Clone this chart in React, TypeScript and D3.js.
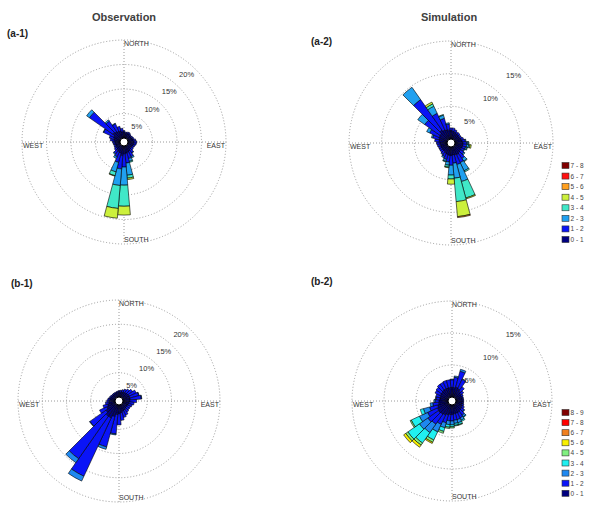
import React from "react";
import * as d3 from "d3";

// ---------- data ----------
const directions = d3.range(0, 360, 10); // sector centres, degrees clockwise from north

const speedBinsA = ["0 - 1", "1 - 2", "2 - 3", "3 - 4", "4 - 5", "5 - 6", "6 - 7", "7 - 8"];
const speedBinsB = ["0 - 1", "1 - 2", "2 - 3", "3 - 4", "4 - 5", "5 - 6", "6 - 7", "7 - 8", "8 - 9"];
const coloursA = ["#00007f", "#0a14f5", "#20a0f0", "#40e8c8", "#ccf03c", "#ffa020", "#ff1010", "#800000"];
const coloursB = ["#00007f", "#0a14f8", "#1e88f0", "#20f0f0", "#80f080", "#f8f000", "#f08020", "#ff0000", "#800000"];

const ringsA1 = [5, 10, 15, 20];
const ringsA2 = [5, 10, 15];
const ringsB1 = [5, 10, 15, 20];
const ringsB2 = [5, 10, 15];

// (a-1) Observation, percentage frequency per direction for each speed bin
const a1_0to1 = [1.2,1.0,1.0,1.1,1.0,0.9,0.9,1.0,1.1,1.2,1.2,1.1,1.0,1.0,1.1,1.3,1.4,1.5,1.6,2.0,1.5,1.4,1.3,1.1,1.0,0.9,1.0,1.0,1.2,1.3,1.5,2.0,1.8,1.6,1.5,1.3];
const a1_1to2 = [0.3,0.2,0.3,0.3,0.2,0.2,0.3,0.3,0.5,0.6,0.5,0.4,0.4,0.5,0.8,1.2,1.3,2.0,2.7,2.7,2.0,1.1,0.8,0.5,0.4,0.4,0.4,0.5,0.8,1.0,2.3,5.8,2.6,1.7,1.0,0.7];
const a1_2to3 = [0,0,0,0,0,0,0,0,0,0,0,0,0,0,0.1,0.3,0.6,2.5,3.7,3.4,2.0,0.4,0.2,0,0,0,0,0,0,0,0.1,0.7,0.3,0.1,0,0];
const a1_3to4 = [0,0,0,0,0,0,0,0,0,0,0,0,0,0,0,0,0.2,0.6,4.3,4.7,0.8,0,0,0,0,0,0,0,0,0,0,0,0,0,0,0];
const a1_4to5 = [0,0,0,0,0,0,0,0,0,0,0,0,0,0,0,0,0,0.3,1.8,2.0,0.1,0,0,0,0,0,0,0,0,0,0,0,0,0,0,0];

// (a-2) Simulation
const a2_0to1 = [1.3,1.2,1.1,1.0,1.0,0.9,0.9,1.0,1.1,1.2,1.2,1.2,1.1,1.2,1.3,1.4,1.3,1.2,1.3,1.3,1.2,1.1,1.0,1.0,1.0,1.0,1.0,1.1,1.2,1.3,1.4,1.5,1.8,1.6,1.5,1.4];
const a2_1to2 = [0.4,0.5,0.4,0.3,0.3,0.3,0.3,0.4,0.5,0.6,0.6,0.5,0.5,0.6,1.0,1.3,1.5,1.3,1.5,1.0,0.8,0.6,0.5,0.4,0.4,0.4,0.5,0.5,0.7,1.0,1.6,2.8,5.7,2.8,1.8,0.9];
const a2_2to3 = [0,0,0,0,0,0,0,0,0.1,0.2,0.3,0.2,0.1,0.2,0.5,1.4,2.7,2.3,1.5,0.5,0.3,0.2,0.1,0,0,0,0,0,0,0.2,0.5,1.3,2.3,1.2,0.5,0.2];
const a2_3to4 = [0,0,0,0,0,0,0,0,0,0.1,0.2,0.1,0,0,0.1,0.2,2.6,3.6,0.6,0.3,0.1,0,0,0,0,0,0,0,0,0,0,0,0,0.4,0.1,0];
const a2_4to5 = [0,0,0,0,0,0,0,0,0,0,0.2,0,0,0,0,0,0.15,2.3,0.8,0.1,0,0,0,0,0,0,0,0,0,0,0,0,0,0.3,0,0];
const a2_5to6 = [0,0,0,0,0,0,0,0,0,0,0,0,0,0,0,0,0,0.15,0,0,0,0,0,0,0,0,0,0,0,0,0,0,0,0,0,0];

// (b-1) Observation
const b1_0to1 = [1.0,1.0,1.1,1.2,1.3,1.4,1.5,1.5,1.5,1.4,1.3,1.2,1.1,1.1,1.2,1.3,1.4,1.6,1.8,2.0,2.5,3.0,3.0,2.5,2.0,1.6,1.3,1.2,1.1,1.0,0.9,0.9,0.9,0.9,0.9,1.0];
const b1_1to2 = [0.3,0.4,0.5,0.7,0.9,1.2,1.6,1.9,2.3,1.4,1.0,0.8,0.7,0.7,0.8,1.1,1.3,1.6,2.3,4.0,6.5,13.3,10.7,4.0,1.6,1.0,0.7,0.5,0.4,0.3,0.3,0.2,0.2,0.2,0.2,0.2];
const b1_2to3 = [0,0,0,0,0,0,0,0.1,0.1,0,0,0,0,0,0,0,0,0,0,0.2,0.5,1.1,1.0,0.1,0,0,0,0,0,0,0,0,0,0,0,0];

// (b-2) Simulation
const b2_0to1 = [1.5,1.5,1.6,1.5,1.3,1.1,1.0,1.0,1.0,1.0,1.0,1.0,1.1,1.2,1.3,1.4,1.4,1.4,1.5,1.5,1.6,1.8,1.9,2.0,1.9,1.7,1.5,1.4,1.3,1.3,1.4,1.4,1.5,1.5,1.5,1.5];
const b2_1to2 = [1.2,1.6,2.6,1.6,0.8,0.5,0.3,0.2,0.2,0.2,0.2,0.3,0.4,0.5,0.8,0.9,1.0,1.0,1.0,1.0,1.3,1.6,1.9,2.0,1.7,1.3,0.9,0.6,0.6,0.7,0.9,1.0,1.1,1.1,1.2,1.2];
const b2_2to3 = [0.1,0.2,0.3,0.1,0,0,0,0,0,0,0,0,0,0.1,0.3,0.4,0.5,0.5,0.6,0.6,0.8,1.3,1.6,1.6,1.4,1.0,0.4,0.2,0.1,0,0,0,0,0,0,0];
const b2_3to4 = [0,0,0,0,0,0,0,0,0,0,0,0,0,0,0.1,0.2,0.3,0.3,0.3,0.4,0.6,1.4,2.0,2.2,1.4,0.5,0,0,0,0,0,0,0,0,0,0];
const b2_4to5 = [0,0,0,0,0,0,0,0,0,0,0,0,0,0,0,0,0.1,0.1,0.2,0.2,0.3,0.4,0.4,0.4,0.2,0,0,0,0,0,0,0,0,0,0,0];
const b2_5to6 = [0,0,0,0,0,0,0,0,0,0,0,0,0,0,0,0,0,0,0,0,0,0.2,0.4,0.4,0,0,0,0,0,0,0,0,0,0,0,0];

// ---------- layout ----------
const W = 600, H = 513;
const HOLE = 4;
const FONT = "'Liberation Sans', Arial, sans-serif";

type Panel = {
  label: string; lx: number; ly: number;
  cx: number; cy: number; R: number; max: number; rings: number[];
  bins: number[][]; colours: string[];
};

const panels: Panel[] = [
  { label: "(a-1)", lx: 7, ly: 37, cx: 124, cy: 142, R: 102, max: 20, rings: ringsA1,
    bins: [a1_0to1, a1_1to2, a1_2to3, a1_3to4, a1_4to5], colours: coloursA },
  { label: "(a-2)", lx: 311, ly: 45, cx: 451, cy: 143, R: 102, max: 15, rings: ringsA2,
    bins: [a2_0to1, a2_1to2, a2_2to3, a2_3to4, a2_4to5, a2_5to6], colours: coloursA },
  { label: "(b-1)", lx: 11, ly: 287, cx: 119, cy: 401, R: 101, max: 20, rings: ringsB1,
    bins: [b1_0to1, b1_1to2, b1_2to3], colours: coloursB },
  { label: "(b-2)", lx: 311, ly: 285, cx: 452, cy: 401, R: 100, max: 15, rings: ringsB2,
    bins: [b2_0to1, b2_1to2, b2_2to3, b2_3to4, b2_4to5, b2_5to6], colours: coloursB },
];

const arcGen = d3.arc<any>();

function Rose({ p }: { p: Panel }) {
  const r = d3.scaleLinear().domain([0, p.max]).range([HOLE, p.R]);
  const segs: { d: string; fill: string }[] = [];
  directions.forEach((dir, i) => {
    let cum = 0;
    p.bins.forEach((arr, b) => {
      const v = arr[i];
      if (v > 0) {
        const d = arcGen({
          innerRadius: r(cum),
          outerRadius: r(cum + v),
          startAngle: ((dir - 5) * Math.PI) / 180,
          endAngle: ((dir + 5) * Math.PI) / 180,
        }) as string;
        segs.push({ d, fill: p.colours[b] });
        cum += v;
      }
    });
  });
  const s45 = Math.SQRT1_2;
  const grid = "#9a9a9a";
  return (
    <g transform={`translate(${p.cx},${p.cy})`}>
      {p.rings.map((v) => (
        <circle key={v} r={r(v)} fill="none" stroke={grid} strokeWidth={1} strokeDasharray="1 2" />
      ))}
      <line x1={-p.R} x2={p.R} y1={0} y2={0} stroke={grid} strokeWidth={1} strokeDasharray="1 2" />
      <line x1={0} x2={0} y1={-p.R} y2={p.R} stroke={grid} strokeWidth={1} strokeDasharray="1 2" />
      {segs.map((s, k) => (
        <path key={k} d={s.d} fill={s.fill} stroke="#000" strokeWidth={0.6} />
      ))}
      <circle r={HOLE} fill="#fff" stroke="#000" strokeWidth={1} />
      {p.rings.map((v) => (
        <text key={"t" + v} x={r(v) * s45 - 2} y={-r(v) * s45 + 7} textAnchor="end"
          fontSize={7.5} fill="#333" fontFamily={FONT}>{v + "%"}</text>
      ))}
      <text x={0} y={-p.R + 6} fontSize={7} fill="#333" fontFamily={FONT}>NORTH</text>
      <text x={0} y={p.R - 2} fontSize={7} fill="#333" fontFamily={FONT}>SOUTH</text>
      <text x={-p.R + 1} y={6} fontSize={7} fill="#333" fontFamily={FONT}>WEST</text>
      <text x={p.R - 1} y={6} textAnchor="end" fontSize={7} fill="#333" fontFamily={FONT}>EAST</text>
    </g>
  );
}

function Legend({ x, yTop, step, labels, colours }: { x: number; yTop: number; step: number; labels: string[]; colours: string[] }) {
  const rev = labels.map((l, i) => ({ l, c: colours[i] })).reverse();
  return (
    <g>
      {rev.map((it, i) => (
        <g key={it.l} transform={`translate(${x},${yTop + i * step})`}>
          <rect x={0} y={-3} width={7} height={6} fill={it.c} stroke="#333" strokeWidth={0.6} />
          <text x={8.5} y={2.5} fontSize={6.5} fill="#444" fontFamily={FONT}>{it.l}</text>
        </g>
      ))}
    </g>
  );
}

export default function App() {
  return (
    <svg width={W} height={H} style={{ display: "block", position: "absolute", left: 0, top: 0, background: "#fff" }}>
      <rect width={W} height={H} fill="#fff" />
      <text x={124} y={21} textAnchor="middle" fontSize={11} fontWeight="bold" fill="#404040" fontFamily={FONT}>Observation</text>
      <text x={449} y={21} textAnchor="middle" fontSize={11} fontWeight="bold" fill="#404040" fontFamily={FONT}>Simulation</text>
      {panels.map((p) => (
        <g key={p.label}>
          <text x={p.lx} y={p.ly} fontSize={10} fontWeight="bold" fill="#222" fontFamily={FONT}>{p.label}</text>
          <Rose p={p} />
        </g>
      ))}
      <Legend x={562} yTop={165.5} step={10.57} labels={speedBinsA} colours={coloursA} />
      <Legend x={562} yTop={412.5} step={10.1} labels={speedBinsB} colours={coloursB} />
    </svg>
  );
}
